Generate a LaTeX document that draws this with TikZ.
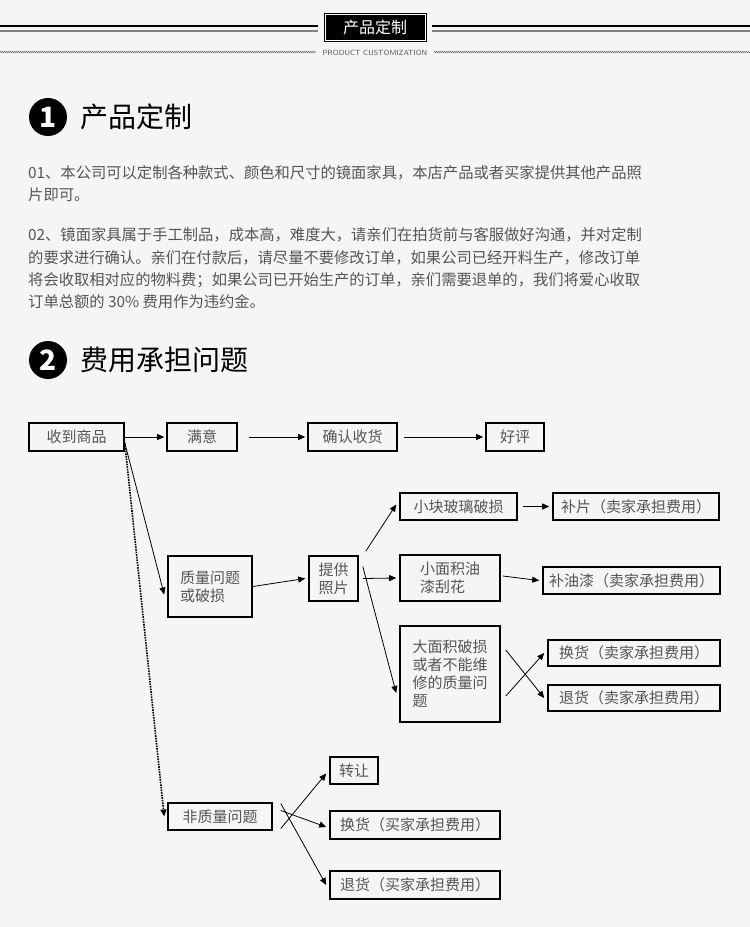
\documentclass[tikz,border=0pt]{standalone}
\usepackage{fontspec}
\setmainfont{Noto Sans CJK SC}
\usetikzlibrary{arrows.meta,decorations.pathmorphing}
\definecolor{bg}{HTML}{F5F5F5}
\definecolor{tx}{HTML}{555555}
\tikzset{
 box/.style={draw=black,line width=1.6pt,fill=bg,text=tx,font=\fontsize{15}{18}\selectfont,inner sep=0pt,align=left},
 arr/.style={-{Triangle[length=7pt,width=6pt]},line width=0.8pt},
 par/.style={anchor=west,text=tx,font=\fontsize{15.3}{18}\selectfont,inner sep=0pt},
 ttl/.style={anchor=west,font=\fontsize{28}{32}\selectfont,inner sep=0pt},
}
\begin{document}
\begin{tikzpicture}[x=1pt,y=-1pt]
\fill[bg] (0,0) rectangle (750,927);
\useasboundingbox (0,0) rectangle (750,927);
% header
\draw[line width=2pt] (0,26) -- (318,26) (432,26) -- (750,26);
\draw[gray,line width=1.5pt] (0,31) -- (318,31) (432,31) -- (750,31);
\draw[gray,line width=0.6pt,decorate,decoration={zigzag,segment length=2pt,amplitude=0.8pt}] (0,52) -- (316,52) (434,52) -- (750,52);
\node[draw=black,line width=1pt,fill=black,text=white,minimum width=100pt,minimum height=26pt,double=white,double distance=1pt,font=\fontsize{16}{18}\selectfont] (hdr) at (375,27) {产品定制};
\node[font=\fontsize{7.5}{9}\selectfont\sffamily,text=tx] (sub) at (375,53) {PRODUCT CUSTOMIZATION};
% section 1
\node[circle,fill=black,minimum size=38pt,inner sep=0pt,text=white,font=\fontsize{28}{30}\selectfont\bfseries\itshape] (c1) at (48,117) {1};
\node[ttl] (t1) at (80,117) {产品定制};
\node[par] (p1) at (28,173) {01、本公司可以定制各种款式、颜色和尺寸的镜面家具，本店产品或者买家提供其他产品照};
\node[par] (p2) at (28,195) {片即可。};
\node[par] (p3) at (28,235) {02、镜面家具属于手工制品，成本高，难度大，请亲们在拍货前与客服做好沟通，并对定制};
\node[par] (p4) at (28,258) {的要求进行确认。亲们在付款后，请尽量不要修改订单，如果公司已经开料生产，修改订单};
\node[par] (p5) at (28,280) {将会收取相对应的物料费；如果公司已开始生产的订单，亲们需要退单的，我们将爱心收取};
\node[par] (p6) at (28,302) {订单总额的 30\% 费用作为违约金。};
% section 2
\node[circle,fill=black,minimum size=38pt,inner sep=0pt,text=white,font=\fontsize{28}{30}\selectfont\bfseries\itshape] (c2) at (48,360) {2};
\node[ttl] (t2) at (80,360) {费用承担问题};
% boxes
\node[box,minimum width=95pt,minimum height=28pt] (a) at (76.5,437) {收到商品};
\node[box,minimum width=70pt,minimum height=28pt] (b) at (202,437) {满意};
\node[box,minimum width=89pt,minimum height=28pt] (c) at (352.5,437) {确认收货};
\node[box,minimum width=58pt,minimum height=28pt] (d) at (515,437) {好评};
\node[box,minimum width=84pt,minimum height=61pt] (q) at (210,586.5) {质量问题\\或破损};
\node[box,minimum width=49pt,minimum height=45pt] (p) at (333.5,578.5) {提供\\照片};
\node[box,minimum width=117pt,minimum height=27pt] (s1) at (458.5,506.5) {小块玻璃破损};
\node[box,minimum width=100pt,minimum height=46pt] (s2) at (450,578) {小面积油\\漆刮花};
\node[box,minimum width=100pt,minimum height=96pt] (s3) at (450,674) {大面积破损\\或者不能维\\修的质量问\\题};
\node[box,minimum width=166pt,minimum height=27pt] (r1) at (636,506.5) {补片（卖家承担费用）};
\node[box,minimum width=177pt,minimum height=27pt] (r2) at (631.5,580.5) {补油漆（卖家承担费用）};
\node[box,minimum width=172pt,minimum height=26pt] (r3) at (634,653) {换货（卖家承担费用）};
\node[box,minimum width=172pt,minimum height=26pt] (r4) at (634,698) {退货（卖家承担费用）};
\node[box,minimum width=104pt,minimum height=27pt] (n) at (220,816.5) {非质量问题};
\node[box,minimum width=48pt,minimum height=27pt] (n1) at (354,770.5) {转让};
\node[box,minimum width=170pt,minimum height=28pt] (n2) at (415,825) {换货（买家承担费用）};
\node[box,minimum width=170pt,minimum height=28pt] (n3) at (415,885) {退货（买家承担费用）};
% arrows
\draw[arr] (a.east) -- ([xshift=-2pt]b.west);
\draw[arr] ([xshift=11pt]b.east) -- ([xshift=-2pt]c.west);
\draw[arr] ([xshift=6pt]c.east) -- ([xshift=-2pt]d.west);
\draw[arr] ([yshift=-6pt]a.east) -- ([xshift=-3pt,yshift=-8pt]q.west);
\draw[arr,line width=1.6pt,densely dotted,-{Triangle[length=7pt,width=6pt]}] ([yshift=-6pt]a.east) -- ([xshift=-3pt]n.west);
\draw[arr] (q.east) -- ([xshift=-3pt]p.west);
\draw[arr] ([xshift=7pt,yshift=4pt]p.north east) -- ([xshift=-3pt,yshift=2pt]s1.west);
\draw[arr] ([xshift=4pt]p.east) -- ([xshift=-3pt]s2.west);
\draw[arr] ([xshift=4pt,yshift=12pt]p.east) -- ([xshift=-3pt,yshift=-19pt]s3.west);
\draw[arr] ([xshift=5pt]s1.east) -- ([xshift=-3pt]r1.west);
\draw[arr] ([xshift=2pt,yshift=2pt]s2.east) -- ([xshift=-3pt]r2.west);
\draw[arr] ([xshift=5pt,yshift=-22pt]s3.east) -- ([xshift=-3pt]r3.west);
\draw[arr] ([xshift=5pt,yshift=24pt]s3.east) -- ([xshift=-3pt]r4.west);
\draw[arr] ([xshift=8pt,yshift=-12pt]n.east) -- ([xshift=-3pt,yshift=-3pt]n1.west);
\draw[arr] ([xshift=8pt,yshift=6pt]n.east) -- ([xshift=-3pt,yshift=-2pt]n2.west);
\draw[arr] ([xshift=8pt,yshift=13pt]n.east) -- ([xshift=-3pt]n3.west);
\end{tikzpicture}
\end{document}
